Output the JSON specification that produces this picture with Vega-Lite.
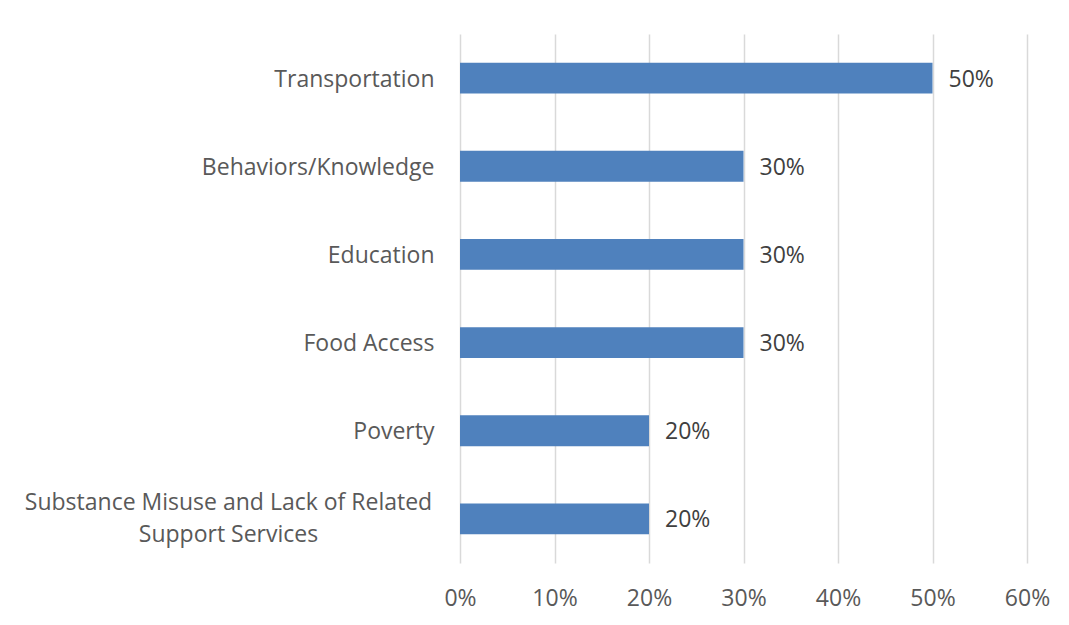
{
  "$schema": "https://vega.github.io/schema/vega-lite/v6.json",
  "autosize": "none",
  "width": 567,
  "height": 529,
  "padding": {"left": 460, "top": 34, "right": 42, "bottom": 62},
  "background": "white",
  "data": {
    "values": [
      {"category": "Transportation", "value": 0.5},
      {"category": "Behaviors/Knowledge", "value": 0.3},
      {"category": "Education", "value": 0.3},
      {"category": "Food Access", "value": 0.3},
      {"category": "Poverty", "value": 0.2},
      {"category": "Substance Misuse and Lack of Related Support Services", "value": 0.2}
    ]
  },
  "config": {
    "view": {"stroke": null},
    "font": "Open Sans"
  },
  "encoding": {
    "y": {
      "field": "category",
      "type": "nominal",
      "sort": null,
      "scale": {"paddingInner": 0.65, "paddingOuter": 0.325},
      "axis": {
        "title": null,
        "domain": false,
        "ticks": false,
        "labelFont": "Open Sans",
        "labelFontSize": 23,
        "labelColor": "#595959",
        "labelLimit": 0,
        "labelLineHeight": 32,
        "labelExpr": "datum.value === 'Substance Misuse and Lack of Related Support Services' ? ['Substance Misuse and Lack of Related', 'Support Services'] : datum.value",
        "labelAlign": {"condition": {"test": "datum.value === 'Substance Misuse and Lack of Related Support Services'", "value": "center"}, "value": "right"},
        "labelPadding": {"condition": {"test": "datum.value === 'Substance Misuse and Lack of Related Support Services'", "value": 232}, "value": 26},
        "labelOffset": {"condition": {"test": "datum.value === 'Substance Misuse and Lack of Related Support Services'", "value": -16}, "value": 1.5}
      }
    },
    "x": {
      "field": "value",
      "type": "quantitative",
      "scale": {"domain": [0, 0.6]},
      "axis": {
        "title": null,
        "format": ".0%",
        "values": [0, 0.1, 0.2, 0.3, 0.4, 0.5, 0.6],
        "domain": false,
        "ticks": false,
        "grid": true,
        "gridColor": "#d9d9d9",
        "gridWidth": 1.5,
        "labelFont": "Open Sans",
        "labelFontSize": 23,
        "labelColor": "#595959",
        "labelFlush": false,
        "labelOverlap": false,
        "labelPadding": 24
      }
    }
  },
  "layer": [
    {"mark": {"type": "bar", "color": "#4f81bd"}},
    {
      "mark": {"type": "text", "align": "left", "baseline": "middle", "dx": 16, "dy": 1.5, "fontSize": 23, "color": "#404040", "font": "Open Sans"},
      "encoding": {"text": {"field": "value", "type": "quantitative", "format": ".0%"}}
    }
  ]
}
